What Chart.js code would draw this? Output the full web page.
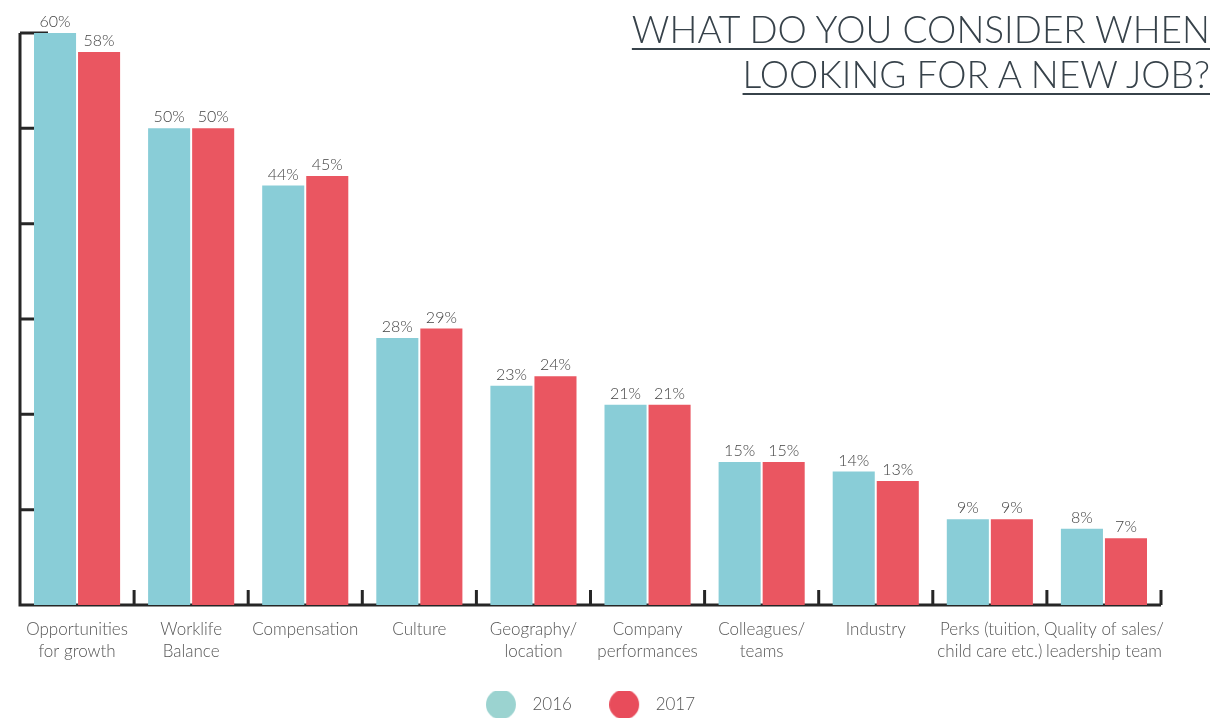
<!DOCTYPE html>
<html>
<head>
<meta charset="utf-8">
<script src="https://cdn.jsdelivr.net/npm/chart.js@4"></script>
<style>
  body { margin: 0; background: #fff; }
  #wrap { position: relative; width: 1215px; height: 718px; }
  #title {
    position: absolute; right: 5px; top: 6px; text-align: right;
    font-family: Lato, sans-serif; font-weight: 300; font-size: 37px; line-height: 45px;
    color: #37424a; text-decoration: underline; text-decoration-thickness: 2px;
    text-underline-offset: 5px;
  }
</style>
</head>
<body>
<div id="wrap">
  <canvas id="chart"></canvas>
  <div id="title">WHAT DO YOU CONSIDER WHEN<br>LOOKING FOR A NEW JOB?</div>
</div>
<script>
const categories = [
  ["Opportunities", "for growth"],
  ["Worklife", "Balance"],
  "Compensation",
  "Culture",
  ["Geography/", "location"],
  ["Company", "performances"],
  ["Colleagues/", "teams"],
  "Industry",
  ["Perks (tuition,", "child care etc.)"],
  ["Quality of sales/", "leadership team"],
];
const values2016 = [60, 50, 44, 28, 23, 21, 15, 14, 9, 8];
const values2017 = [58, 50, 45, 29, 24, 21, 15, 13, 9, 7];
const yTicks = [0, 10, 20, 30, 40, 50, 60];

const blue = "#89cdd7";
const red = "#ea5661";

// circle images for the legend
function makeDot(color) {
  const c = document.createElement("canvas");
  c.width = 38;
  c.height = 32;
  const g = c.getContext("2d");
  g.fillStyle = color;
  g.beginPath();
  g.arc(15, 16, 15, 0, Math.PI * 2);
  g.fill();
  return c;
}
const legendDots = [makeDot("#9bd3d0"), makeDot("#e84c5b")];

// axis lines and inward tick marks
const axisMarks = {
  id: "axisMarks",
  beforeDatasetsDraw(chart) {
    const { ctx, chartArea } = chart;
    const y = chart.scales.y;
    const step = (chartArea.right - chartArea.left) / categories.length;
    ctx.save();
    ctx.strokeStyle = "#262626";
    ctx.lineWidth = 3;
    ctx.beginPath();
    ctx.moveTo(chartArea.left, chartArea.top);
    ctx.lineTo(chartArea.left, chartArea.bottom);
    ctx.lineTo(chartArea.right, chartArea.bottom);
    yTicks.forEach((v) => {
      const py = y.getPixelForValue(v);
      ctx.moveTo(chartArea.left, py);
      ctx.lineTo(chartArea.left + 28, py);
    });
    for (let i = 0; i <= categories.length; i++) {
      const px = chartArea.left + i * step;
      ctx.moveTo(px, chartArea.bottom);
      ctx.lineTo(px, chartArea.bottom - 15);
    }
    ctx.stroke();
    ctx.restore();
  },
};

// percentage labels above bars
const barLabels = {
  id: "barLabels",
  afterDatasetsDraw(chart) {
    const ctx = chart.ctx;
    ctx.save();
    ctx.font = "300 16px Lato, sans-serif";
    ctx.fillStyle = "#444";
    ctx.textAlign = "center";
    ctx.textBaseline = "bottom";
    chart.data.datasets.forEach((ds, i) => {
      chart.getDatasetMeta(i).data.forEach((bar, j) => {
        ctx.fillText(ds.data[j] + "%", bar.x, bar.y - 3);
      });
    });
    ctx.restore();
  },
};

new Chart(document.getElementById("chart"), {
  type: "bar",
  data: {
    labels: categories,
    datasets: [
      { label: "2016", data: values2016, backgroundColor: blue },
      { label: "2017", data: values2017, backgroundColor: red },
    ],
  },
  options: {
    responsive: true,
    maintainAspectRatio: false,
    animation: false,
    categoryPercentage: 0.772,
    barPercentage: 0.955,
    layout: { padding: { left: 20, right: 54, top: 33, bottom: -5 } },
    scales: {
      x: {
        grid: { display: false },
        border: { display: false },
        ticks: {
          color: "#555",
          padding: 5,
          maxRotation: 0,
          minRotation: 0,
          autoSkip: false,
          font: { family: "Lato", size: 17, weight: 300, lineHeight: 1.3 },
        },
        afterFit: (s) => { s.height = 86; },
      },
      y: {
        display: false,
        min: 0,
        max: 60,
      },
    },
    plugins: {
      tooltip: { enabled: false },
      legend: {
        position: "bottom",
        labels: {
          usePointStyle: true,
          pointStyleWidth: 38,
          padding: 5,
          color: "#555",
          font: { family: "Lato", size: 17, weight: 300 },
          generateLabels(chart) {
            const items = Chart.defaults.plugins.legend.labels.generateLabels(chart);
            items.forEach((it, i) => {
              it.pointStyle = legendDots[i];
              if (i === 0) it.text = it.text + "       ";
            });
            return items;
          },
        },
      },
    },
  },
  plugins: [axisMarks, barLabels],
});
</script>
</body>
</html>
